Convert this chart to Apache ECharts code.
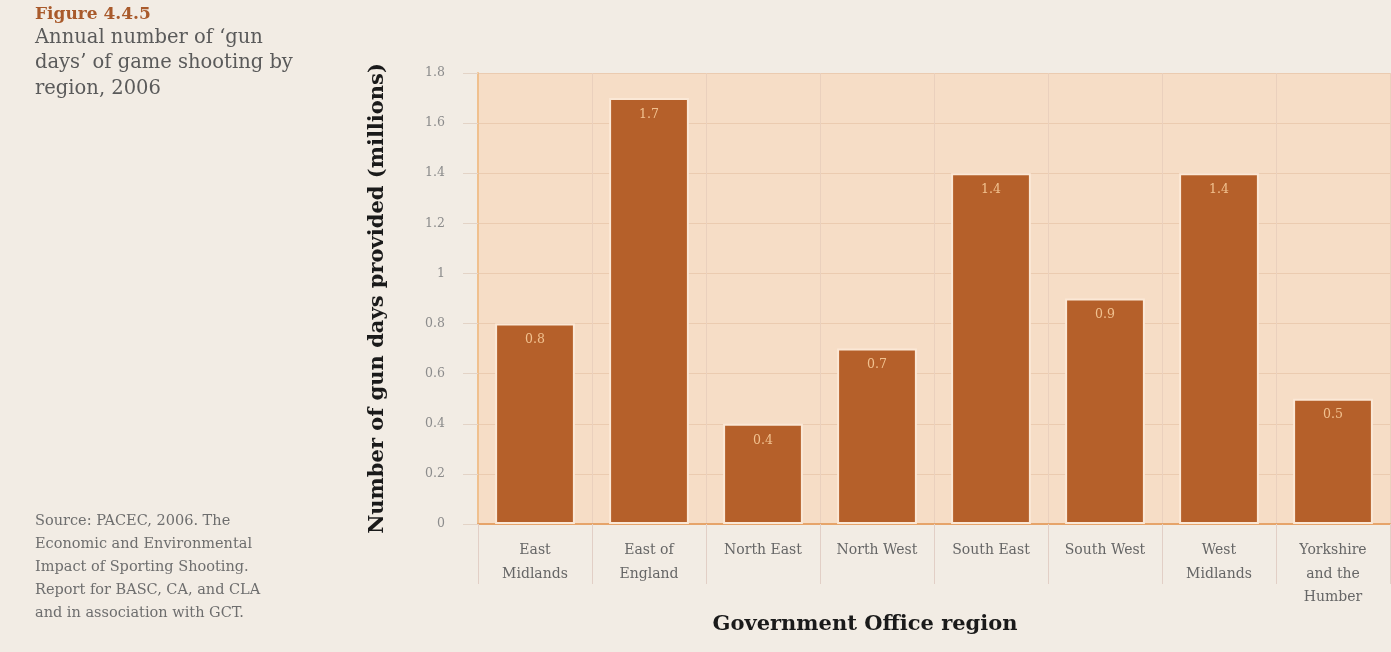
<!DOCTYPE html>
<html>
<head>
<meta charset="utf-8">
<script src="https://cdn.jsdelivr.net/npm/echarts@6/dist/echarts.min.js"></script>
<style>
  html, body { margin: 0; padding: 0; background: #f2ece4; }
  #chart { width: 1391px; height: 652px; }
</style>
</head>
<body>
<div id="chart"></div>
<script>
// Regions and gun days (millions), 2006
const regions = ['East\nMidlands', 'East of\nEngland', 'North East', 'North West', 'South East', 'South West', 'West\nMidlands', 'Yorkshire\nand the\nHumber'];
const gunDays = [0.8, 1.7, 0.4, 0.7, 1.4, 0.9, 1.4, 0.5];
const yTicks = { min: 0, max: 1.8, interval: 0.2 };

const serif = '"DejaVu Serif", "Liberation Serif", serif';
const chart = echarts.init(document.getElementById('chart'));

chart.setOption({
  backgroundColor: '#f2ece4',
  grid: {
    left: 478, right: 1, top: 73, bottom: 128,
    show: true, backgroundColor: '#f6ddc6', borderWidth: 0
  },
  graphic: [
    { type: 'text', left: 35, top: 6, style: { text: 'Figure 4.4.5', font: 'bold 17px ' + serif, fill: '#a95a2b' } },
    { type: 'text', left: 35, top: 25, style: { text: "Annual number of \u2018gun\ndays\u2019 of game shooting by\nregion, 2006", font: '19.5px ' + serif, fill: '#5a5a5a', lineHeight: 25.5 } },
    { type: 'text', left: 35, top: 510, style: { text: 'Source: PACEC, 2006. The\nEconomic and Environmental\nImpact of Sporting Shooting.\nReport for BASC, CA, and CLA\nand in association with GCT.', font: '14.5px ' + serif, fill: '#6e6e6e', lineHeight: 23 } }
  ],
  xAxis: {
    type: 'category',
    data: regions,
    name: 'Government Office region',
    nameLocation: 'middle',
    nameGap: 85,
    nameTextStyle: { fontFamily: serif, fontWeight: 'bold', fontSize: 21, color: '#1a1a1a', padding: [0, 138, 0, 0] },
    axisLine: { lineStyle: { color: '#e6a46a', width: 2 } },
    axisTick: { show: true, length: 60, lineStyle: { color: '#e2cfc6', width: 1 } },
    axisLabel: { fontFamily: serif, fontSize: 14, color: '#666', lineHeight: 23.5, margin: 15, interval: 0 },
    splitLine: { show: true, lineStyle: { color: '#ead0bd', width: 1 } }
  },
  yAxis: {
    type: 'value',
    min: yTicks.min, max: yTicks.max, interval: yTicks.interval,
    name: 'Number of gun days provided (millions)',
    nameLocation: 'middle',
    nameGap: 90,
    nameRotate: 90,
    nameTextStyle: { fontFamily: serif, fontWeight: 'bold', fontSize: 21, color: '#1a1a1a' },
    axisLine: { show: true, lineStyle: { color: '#f0c08e', width: 2 } },
    axisTick: { show: true, length: 15, lineStyle: { color: '#e3d3c6' } },
    axisLabel: { fontFamily: serif, fontSize: 12.5, color: '#8c8c8c', margin: 33, formatter: v => String(Math.round(v * 10) / 10) },
    splitLine: { show: true, lineStyle: { color: '#ebcbb0', width: 1 } }
  },
  series: [{
    type: 'bar',
    data: gunDays,
    barWidth: '70%',
    itemStyle: { color: '#b5602a', borderColor: '#fbe8d6', borderWidth: 2 },
    label: {
      show: true, position: 'insideTop', distance: 10,
      fontFamily: serif, fontSize: 12.5, color: '#f1c18f',
      formatter: p => String(p.value)
    }
  }]
});
</script>
</body>
</html>
